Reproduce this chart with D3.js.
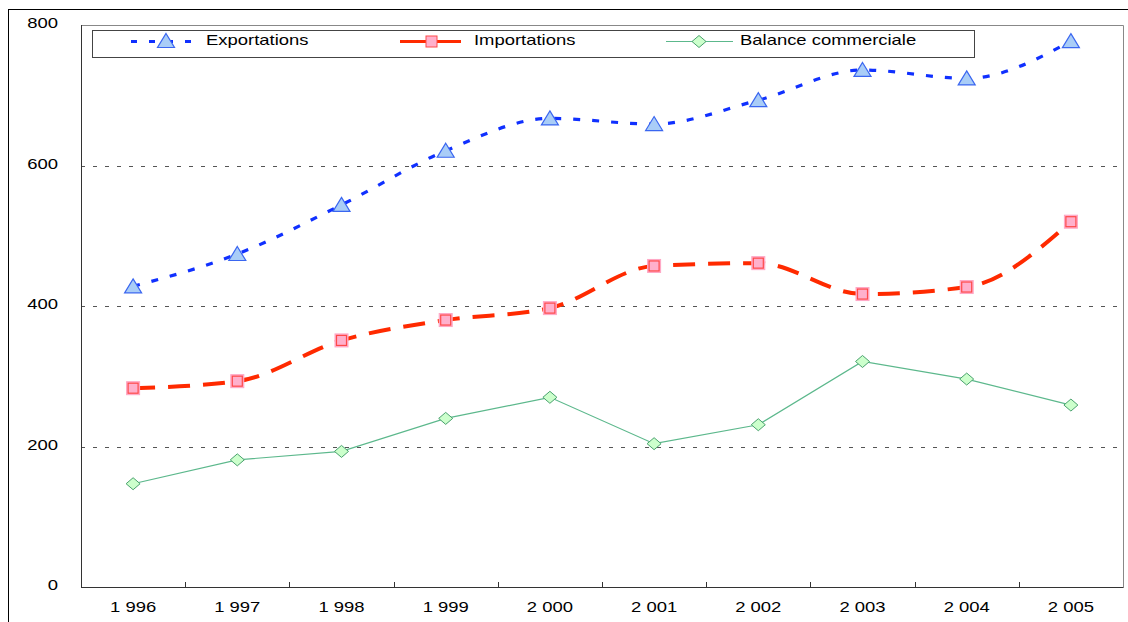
<!DOCTYPE html>
<html lang="fr">
<head>
  <meta charset="UTF-8">
  <title>Exportations, importations, balance commerciale</title>
  <script src="https://cdn.jsdelivr.net/npm/d3@7"></script>
  <style>
    body { margin: 0; background: #fff; }
    svg text { font-family: "Liberation Sans", Arial, sans-serif; font-size: 15px; fill: #000; }
  </style>
</head>
<body>
  <svg id="chart" width="1128" height="622"></svg>
  <script>
    // données
    const annees = ['1 996', '1 997', '1 998', '1 999', '2 000', '2 001', '2 002', '2 003', '2 004', '2 005'];
    const exportations = [428, 474, 544, 621, 667, 659, 693, 736, 724, 777];
    const importations = [283, 293, 351, 380, 397, 457, 461, 417, 427, 520];
    const balance = [147, 181, 193, 240, 270, 204, 231, 321, 296, 259];
    const yTicks = [0, 200, 400, 600, 800];

    const svg = d3.select('#chart');
    const stretch = 1.23; // texte élargi comme dans l'image d'origine

    // texte un peu étiré horizontalement
    function label(g, x, y, txt, anchor) {
      return g.append('text')
        .attr('transform', 'translate(' + x + ',' + y + ') scale(' + stretch + ',1)')
        .attr('text-anchor', anchor || 'start')
        .attr('dy', '0.35em')
        .text(txt);
    }

    // cadre extérieur
    svg.append('rect').attr('x', 8.5).attr('y', 9.5).attr('width', 1140).attr('height', 640)
      .attr('fill', 'none').attr('stroke', '#000');

    const x = d3.scaleBand().domain(annees).range([81, 1123]).padding(0);
    const y = d3.scaleLinear().domain([0, 800]).range([587, 25]);
    const cx = d => x(d) + x.bandwidth() / 2;

    // grille
    svg.append('g').selectAll('line').data(yTicks.filter(v => v > 0 && v < 800)).join('line')
      .attr('x1', 81).attr('x2', 1123)
      .attr('y1', d => Math.round(y(d)) + 0.5).attr('y2', d => Math.round(y(d)) + 0.5)
      .attr('stroke', '#555').attr('stroke-dasharray', '4,8');

    // bord du tracé
    svg.append('path')
      .attr('d', 'M81.5,' + (y(800) + 0.5) + 'H1123.5V' + (y(0) + 0.5))
      .attr('fill', 'none').attr('stroke', '#888');

    // axes
    const axisG = svg.append('g');
    axisG.append('line').attr('x1', 81.5).attr('x2', 81.5).attr('y1', y(800)).attr('y2', y(0) + 0.5)
      .attr('stroke', '#333');
    axisG.append('line').attr('x1', 81).attr('x2', 1123.5).attr('y1', y(0) + 0.5).attr('y2', y(0) + 0.5)
      .attr('stroke', '#333');
    axisG.selectAll('.tk').data(annees.slice(1)).join('line').attr('class', 'tk')
      .attr('x1', d => Math.round(x(d)) + 0.5).attr('x2', d => Math.round(x(d)) + 0.5)
      .attr('y1', y(0) - 5).attr('y2', y(0))
      .attr('stroke', '#333');

    yTicks.forEach(v => label(svg, 58, y(v) - 2, String(v), 'end'));
    annees.forEach(a => label(svg, cx(a), 607, a, 'middle'));

    // marqueurs
    const triangle = 'M0,-7.5L8.5,6.5L-8.5,6.5Z';
    const losange = 'M0,-6L7,0L0,6L-7,0Z';

    function drawTriangle(g, px, py) {
      g.append('path').attr('d', triangle).attr('transform', 'translate(' + px + ',' + py + ')')
        .attr('fill', '#a9cdf7').attr('stroke', '#3a66f0').attr('stroke-width', 1.2);
    }
    function drawCarre(g, px, py) {
      g.append('rect').attr('x', px - 6.5).attr('y', py - 6.5).attr('width', 13).attr('height', 13)
        .attr('fill', '#ffb0cc').attr('stroke', '#ffa6c4');
      g.append('rect').attr('x', px - 5).attr('y', py - 5).attr('width', 10).attr('height', 10)
        .attr('fill', '#ffb0cc').attr('stroke', '#ff4a4a').attr('stroke-width', 1.2);
    }
    function drawLosange(g, px, py) {
      g.append('path').attr('d', losange).attr('transform', 'translate(' + px + ',' + py + ')')
        .attr('fill', '#ccffcc').attr('stroke', '#4aa26e');
    }

    // séries
    const lisse = d3.line().x((d, i) => cx(annees[i])).y(d => y(d)).curve(d3.curveMonotoneX);
    const droite = d3.line().x((d, i) => cx(annees[i])).y(d => y(d));

    svg.append('path').datum(balance).attr('d', droite)
      .attr('fill', 'none').attr('stroke', '#5cb88c').attr('stroke-width', 1.2);
    svg.append('path').datum(importations).attr('d', lisse)
      .attr('fill', 'none').attr('stroke', '#ff2a00').attr('stroke-width', 4)
      .attr('stroke-dasharray', '22,13');
    svg.append('path').datum(exportations).attr('d', lisse)
      .attr('fill', 'none').attr('stroke', '#1030ff').attr('stroke-width', 3.2)
      .attr('stroke-dasharray', '7,12');

    const mk = svg.append('g');
    balance.forEach((v, i) => drawLosange(mk, cx(annees[i]), y(v)));
    importations.forEach((v, i) => drawCarre(mk, cx(annees[i]), y(v)));
    exportations.forEach((v, i) => drawTriangle(mk, cx(annees[i]), y(v)));

    // légende
    const leg = svg.append('g');
    leg.append('rect').attr('x', 92.5).attr('y', 30.5).attr('width', 882).attr('height', 27)
      .attr('fill', '#fff').attr('stroke', '#444');
    const ly = 41;
    leg.append('line').attr('x1', 131).attr('x2', 199).attr('y1', ly + 0.5).attr('y2', ly + 0.5)
      .attr('stroke', '#1030ff').attr('stroke-width', 3).attr('stroke-dasharray', '6,12');
    drawTriangle(leg, 166, ly);
    label(leg, 206, ly - 1, 'Exportations');

    leg.append('line').attr('x1', 400).attr('x2', 461).attr('y1', ly + 0.5).attr('y2', ly + 0.5)
      .attr('stroke', '#ff2a00').attr('stroke-width', 3);
    leg.append('rect').attr('x', 426).attr('y', ly - 5).attr('width', 11).attr('height', 11)
      .attr('fill', '#ffb0cc').attr('stroke', '#ff4a4a');
    label(leg, 474, ly - 1, 'Importations');

    leg.append('line').attr('x1', 666).attr('x2', 733).attr('y1', ly + 0.5).attr('y2', ly + 0.5)
      .attr('stroke', '#5cb88c').attr('stroke-width', 1.2);
    drawLosange(leg, 699, ly + 0.5);
    label(leg, 740, ly - 1, 'Balance commerciale');
  </script>
</body>
</html>
